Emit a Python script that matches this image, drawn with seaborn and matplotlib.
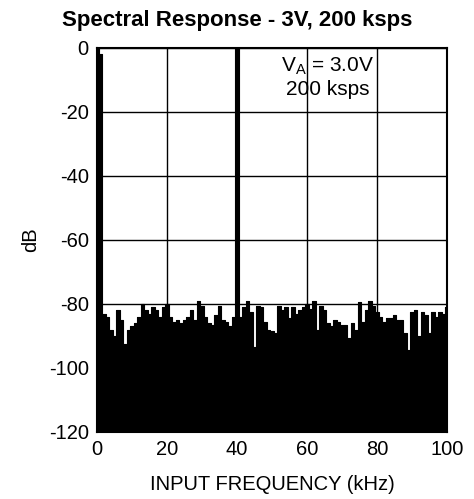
import numpy as np
import pandas as pd
import matplotlib
matplotlib.use("Agg")
import matplotlib.pyplot as plt
import seaborn as sns

# spectrum, 1 kHz steps (0..100 kHz)
freq_khz = list(range(0, 101))
level_db = [
    0, -2, -83, -84, -88, -90, -82, -85, -92.5, -88,
    -87, -86, -84, -80, -82, -83, -81, -82, -84, -81,
    -80, -84, -85.5, -85, -86, -85, -84, -82, -85, -79,
    -80.5, -84, -86, -86.5, -83.5, -80.5, -85, -85.5, -87, -84,
    0, -84, -81, -79, -82.5, -93.5, -80.5, -81, -85.5, -88,
    -88.5, -89, -80.5, -82, -81, -84.5, -81, -83, -82, -81,
    -80, -81.5, -79, -88, -80.5, -82, -86, -87, -85, -85.5,
    -86.5, -86.5, -90.5, -86, -88, -79.5, -85.5, -82, -79, -80.5,
    -82.5, -84, -85.5, -84.5, -84.5, -83.5, -85, -85, -89, -94.5,
    -82.5, -82, -90, -82.5, -83.5, -89, -82.5, -84, -82.5, -83,
    -81,
]
x_ticks = [0, 20, 40, 60, 80, 100]
y_ticks = [0, -20, -40, -60, -80, -100, -120]

df = pd.DataFrame({"freq": freq_khz, "db": level_db})

sns.set_style("white")
plt.rcParams["font.family"] = ["Liberation Sans", "DejaVu Sans"]
plt.rcParams["axes.unicode_minus"] = False
plt.rcParams["text.color"] = "black"
plt.rcParams["axes.labelcolor"] = "black"

fig = plt.figure(figsize=(4.74, 4.99), dpi=100)
ax = fig.add_axes([0.2046, 0.1343, 0.7384, 0.7697])

ax.fill_between(df["freq"], -120, df["db"], step="mid", color="black", lw=0)
sns.lineplot(data=df, x="freq", y="db", ax=ax, color="black", lw=0.8,
             drawstyle="steps-mid")

ax.set_xlim(0, 100)
ax.set_ylim(-120, 0)
ax.set_xticks(x_ticks)
ax.set_yticks(y_ticks)
ax.grid(True, color="black", lw=1.0)
ax.set_axisbelow(False)
for s in ax.spines.values():
    s.set_color("black")
    s.set_linewidth(1.5)
ax.tick_params(length=0, labelsize=14.5, pad=6, colors="black")

ax.set_xlabel("INPUT FREQUENCY (kHz)", fontsize=14.5, labelpad=11)
ax.set_ylabel("dB", fontsize=14.5, labelpad=6)
fig.text(0.5, 0.958, "Spectral Response - 3V, 200 ksps", ha="center", va="center",
         fontsize=16, fontweight="bold")

ax.text(66, -9, "V$_\\mathregular{A}$ = 3.0V\n200 ksps", ha="center", va="center",
        fontsize=15, linespacing=1.2)

fig.savefig("out.png", dpi=100)
